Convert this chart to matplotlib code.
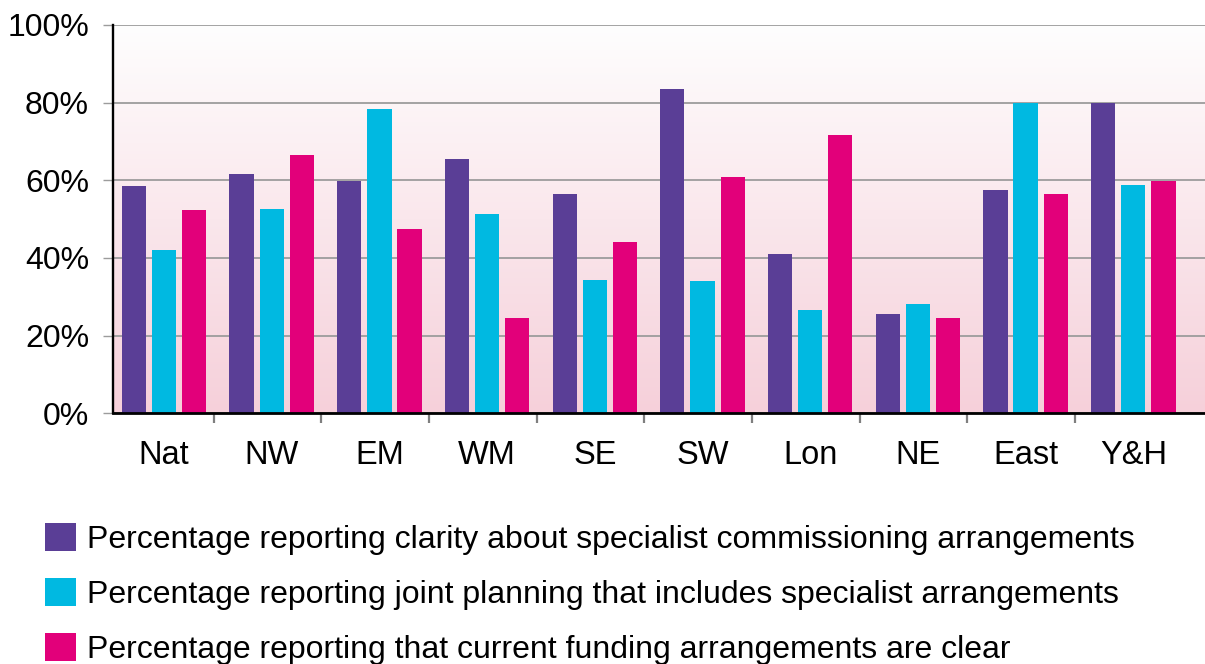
import numpy as np
import matplotlib
matplotlib.use("Agg")
import matplotlib.pyplot as plt
from matplotlib.colors import LinearSegmentedColormap

plt.rcParams['font.family'] = ['Liberation Sans', 'DejaVu Sans']

# data
regions = ["Nat", "NW", "EM", "WM", "SE", "SW", "Lon", "NE", "East", "Y&H"]
clarity = [58.5, 61.6, 59.8, 65.5, 56.5, 83.5, 41.0, 25.6, 57.5, 79.9]
joint_planning = [42.1, 52.6, 78.4, 51.3, 34.3, 34.1, 26.6, 28.2, 79.9, 58.8]
funding_clear = [52.4, 66.5, 47.5, 24.5, 44.1, 60.9, 71.7, 24.5, 56.5, 59.8]

labels = [
    "Percentage reporting clarity about specialist commissioning arrangements",
    "Percentage reporting joint planning that includes specialist arrangements",
    "Percentage reporting that current funding arrangements are clear",
]
colors = ["#5a3e96", "#00b9e1", "#e2007a"]

fig = plt.figure(figsize=(12.05, 6.64), dpi=100)
ax = fig.add_axes([113 / 1205, 1 - 413.3 / 664, 1 - 113 / 1205, (413.3 - 25) / 664])

x = np.arange(len(regions))
width = 0.225
offsets = [-0.28, 0.0, 0.28]
series = [clarity, joint_planning, funding_clear]
bars = []
for vals, off, col, lab in zip(series, offsets, colors, labels):
    b = ax.bar(x + off, vals, width, color=col, label=lab, zorder=3)
    bars.append(b)

ax.set_xlim(-0.474, 9.666)
ax.set_ylim(0, 100)

# pink gradient background
grad = LinearSegmentedColormap.from_list("bg", ["#f6d0da", "#fefefe"])
ax.imshow(np.linspace(0, 1, 256).reshape(-1, 1), cmap=grad, aspect="auto",
          extent=(-0.474, 9.666, 0, 100), origin="lower", zorder=0)

ax.set_yticks(np.arange(0, 101, 20))
ax.set_yticklabels([f"{v}%" for v in range(0, 101, 20)], fontsize=23)
ax.yaxis.grid(True, color="#9c9c9c", linewidth=1.3, zorder=1)
ax.tick_params(axis="y", direction="out", length=7.2, width=1.0, color="#9c9c9c", pad=10)

ax.set_xticks(x)
ax.set_xticklabels(regions, fontsize=23.5)
ax.set_xticks(x[:-1] + 0.46, minor=True)
ax.tick_params(axis="x", which="major", length=0, pad=19.5)
ax.tick_params(axis="x", which="minor", direction="out", length=7.5, width=1.6, color="#7f7f7f")

for s in ["top", "right"]:
    ax.spines[s].set_visible(False)
ax.spines["left"].set_linewidth(1.7)
ax.spines["bottom"].set_linewidth(2.0)
ax.spines["left"].set_zorder(4)
ax.spines["bottom"].set_zorder(4)

fig.legend(handles=bars, labels=labels, loc="upper left",
           bbox_to_anchor=(32 / 1205, 1 - 510 / 664), frameon=False, fontsize=23,
           handlelength=0.97, handleheight=0.97, handletextpad=0.35, labelspacing=0.72,
           borderaxespad=0)

fig.savefig("out.png", dpi=100)
